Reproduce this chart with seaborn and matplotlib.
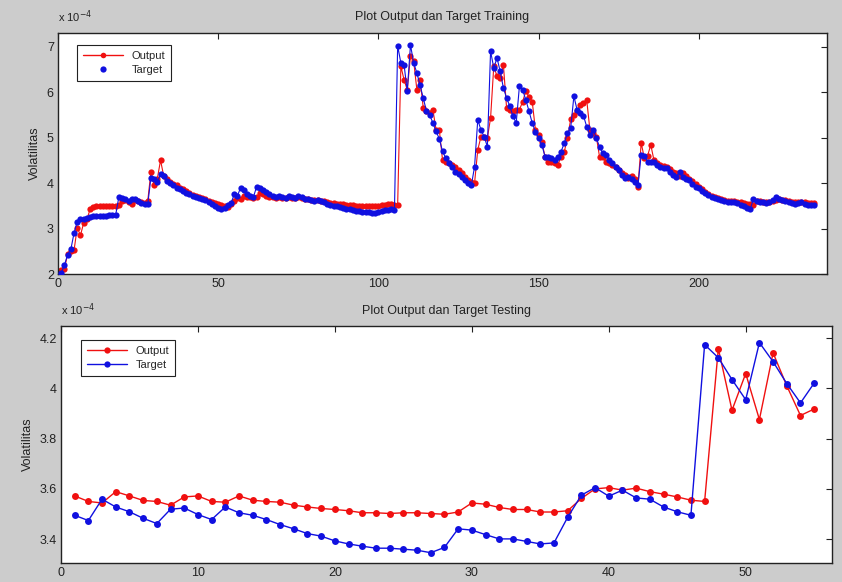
import matplotlib
matplotlib.use("Agg")
import matplotlib.pyplot as plt
from matplotlib.lines import Line2D
from matplotlib.ticker import FuncFormatter
import numpy as np
import seaborn as sns

# volatility values, in units of 1e-4 (shown as "x 10^-4" on the axes)
target_train = [
    2.02, 2.20, 2.42, 2.54, 2.90, 3.15, 3.20, 3.22, 3.24, 3.25,
    3.27, 3.28, 3.28, 3.28, 3.28, 3.29, 3.29, 3.30, 3.70, 3.68,
    3.64, 3.60, 3.66, 3.64, 3.60, 3.57, 3.55, 3.53, 4.12, 4.08,
    4.02, 4.20, 4.15, 4.05, 4.00, 3.95, 3.90, 3.86, 3.82, 3.78,
    3.75, 3.72, 3.70, 3.68, 3.65, 3.62, 3.58, 3.55, 3.50, 3.46,
    3.44, 3.45, 3.52, 3.56, 3.75, 3.72, 3.90, 3.85, 3.75, 3.72,
    3.70, 3.92, 3.90, 3.85, 3.80, 3.75, 3.72, 3.70, 3.72, 3.70,
    3.68, 3.72, 3.70, 3.68, 3.72, 3.70, 3.66, 3.64, 3.62, 3.60,
    3.62, 3.60, 3.58, 3.55, 3.52, 3.50, 3.50, 3.48, 3.45, 3.42,
    3.42, 3.40, 3.39, 3.38, 3.37, 3.36, 3.36, 3.35, 3.35, 3.36,
    3.38, 3.41, 3.41, 3.42, 3.40, 7.02, 6.64, 6.60, 6.02, 7.04,
    6.64, 6.42, 6.15, 5.87, 5.58, 5.50, 5.32, 5.14, 4.97, 4.70,
    4.55, 4.44, 4.36, 4.25, 4.20, 4.14, 4.06, 4.00, 3.95, 4.36,
    5.39, 5.17, 5.02, 4.80, 6.90, 6.53, 6.75, 6.46, 6.09, 5.87,
    5.69, 5.47, 5.32, 6.13, 6.05, 5.83, 5.58, 5.32, 5.13, 4.99,
    4.84, 4.58, 4.58, 4.55, 4.51, 4.58, 4.69, 4.88, 5.10, 5.21,
    5.91, 5.61, 5.54, 5.48, 5.24, 5.06, 5.17, 4.99, 4.80, 4.66,
    4.62, 4.51, 4.44, 4.36, 4.29, 4.18, 4.11, 4.14, 4.10, 4.02,
    3.95, 4.62, 4.60, 4.47, 4.47, 4.47, 4.40, 4.36, 4.33, 4.33,
    4.25, 4.18, 4.14, 4.25, 4.14, 4.10, 4.07, 3.99, 3.92, 3.89,
    3.82, 3.78, 3.74, 3.70, 3.67, 3.65, 3.62, 3.60, 3.59, 3.59,
    3.58, 3.56, 3.52, 3.50, 3.46, 3.42, 3.64, 3.60, 3.59, 3.58,
    3.56, 3.59, 3.62, 3.69, 3.65, 3.63, 3.60, 3.59, 3.56, 3.54,
    3.56, 3.59, 3.55, 3.52, 3.52, 3.52,
]
output_train = [
    2.08, 2.10, 2.45, 2.50, 2.52, 3.02, 2.85, 3.12, 3.20, 3.42,
    3.48, 3.50, 3.50, 3.50, 3.50, 3.50, 3.50, 3.50, 3.52, 3.60,
    3.62, 3.58, 3.55, 3.62, 3.60, 3.58, 3.56, 3.60, 4.25, 3.95,
    4.10, 4.50, 4.15, 4.08, 4.02, 3.98, 3.95, 3.90, 3.86, 3.82,
    3.78, 3.74, 3.72, 3.70, 3.67, 3.64, 3.60, 3.58, 3.56, 3.54,
    3.52, 3.50, 3.48, 3.55, 3.60, 3.68, 3.65, 3.72, 3.70, 3.70,
    3.68, 3.70, 3.78, 3.75, 3.72, 3.70, 3.70, 3.68, 3.70, 3.68,
    3.68, 3.70, 3.68, 3.68, 3.70, 3.68, 3.66, 3.64, 3.63, 3.62,
    3.62, 3.61, 3.60, 3.58, 3.57, 3.56, 3.55, 3.54, 3.53, 3.52,
    3.52, 3.51, 3.50, 3.50, 3.50, 3.49, 3.49, 3.49, 3.50, 3.50,
    3.51, 3.52, 3.53, 3.53, 3.52, 3.52, 6.57, 6.27, 6.05, 6.79,
    6.68, 6.05, 6.27, 5.65, 5.58, 5.55, 5.61, 5.17, 5.17, 4.51,
    4.47, 4.44, 4.40, 4.35, 4.29, 4.22, 4.14, 4.07, 4.02, 4.00,
    4.73, 5.02, 5.02, 4.99, 5.43, 6.57, 6.35, 6.31, 6.60, 5.65,
    5.61, 5.58, 5.61, 5.61, 5.79, 6.02, 5.90, 5.79, 5.17, 5.05,
    4.90, 4.58, 4.47, 4.47, 4.44, 4.40, 4.58, 4.69, 4.99, 5.40,
    5.50, 5.58, 5.72, 5.76, 5.83, 5.17, 5.10, 5.02, 4.58, 4.58,
    4.47, 4.44, 4.40, 4.36, 4.29, 4.22, 4.18, 4.12, 4.15, 4.10,
    3.92, 4.88, 4.55, 4.60, 4.84, 4.50, 4.45, 4.40, 4.38, 4.35,
    4.30, 4.25, 4.22, 4.15, 4.22, 4.15, 4.10, 4.05, 3.98, 3.92,
    3.86, 3.80, 3.76, 3.72, 3.70, 3.67, 3.65, 3.62, 3.61, 3.60,
    3.60, 3.59, 3.58, 3.57, 3.55, 3.53, 3.52, 3.60, 3.60, 3.59,
    3.58, 3.58, 3.60, 3.62, 3.65, 3.63, 3.62, 3.60, 3.59, 3.58,
    3.58, 3.59, 3.58, 3.57, 3.56, 3.56,
]

output_test = [
    3.572, 3.550, 3.544, 3.589, 3.572, 3.554, 3.550, 3.535, 3.568, 3.572,
    3.550, 3.547, 3.572, 3.555, 3.550, 3.547, 3.535, 3.528, 3.522, 3.518,
    3.513, 3.505, 3.505, 3.502, 3.505, 3.505, 3.502, 3.499, 3.508, 3.544,
    3.539, 3.526, 3.518, 3.518, 3.508, 3.508, 3.513, 3.562, 3.600, 3.605,
    3.595, 3.603, 3.589, 3.579, 3.568, 3.555, 3.550, 4.158, 3.913, 4.059,
    3.876, 4.141, 4.010, 3.892, 3.918,
]
target_test = [
    3.495, 3.474, 3.559, 3.528, 3.509, 3.483, 3.462, 3.519, 3.524, 3.498,
    3.478, 3.528, 3.505, 3.495, 3.478, 3.458, 3.441, 3.422, 3.412, 3.393,
    3.381, 3.372, 3.364, 3.364, 3.360, 3.356, 3.346, 3.367, 3.441, 3.436,
    3.418, 3.401, 3.401, 3.391, 3.381, 3.385, 3.487, 3.575, 3.605, 3.571,
    3.595, 3.564, 3.559, 3.528, 3.509, 3.495, 4.174, 4.122, 4.035, 3.955,
    4.182, 4.106, 4.019, 3.942, 4.021,
]

train_xticks = [0, 50, 100, 150, 200]
train_yticks = [2, 3, 4, 5, 6, 7]
test_xticks = [0, 10, 20, 30, 40, 50]
test_yticks = [3.4, 3.6, 3.8, 4.0, 4.2]

RED = "#f01010"
BLUE = "#1010e0"
BG = "#cccccc"

sns.set_theme(style="white")
plt.rcParams["font.family"] = ["Liberation Sans", "DejaVu Sans"]
plt.rcParams.update({
    "axes.edgecolor": "#222222",
    "axes.linewidth": 1.0,
    "xtick.direction": "in",
    "ytick.direction": "in",
    "xtick.top": True,
    "ytick.right": True,
    "xtick.major.size": 4,
    "ytick.major.size": 4,
    "xtick.major.width": 0.8,
    "ytick.major.width": 0.8,
    "xtick.color": "#222222",
    "ytick.color": "#222222",
    "xtick.labelsize": 9,
    "ytick.labelsize": 9,
})

fig = plt.figure(figsize=(8.42, 5.82), dpi=100, facecolor=BG)
ax_train = fig.add_axes([0.0689, 0.5292, 0.9133, 0.4141])
ax_test = fig.add_axes([0.0724, 0.0326, 0.9157, 0.4072])


def draw_pair(ax, out, tgt, msize, lw):
    x_out = np.arange(1, len(out) + 1)
    x_tgt = np.arange(1, len(tgt) + 1)
    sns.lineplot(x=x_out, y=out, ax=ax, color=RED, marker="o", markersize=msize,
                 markeredgewidth=0, linewidth=lw, legend=False, zorder=2)
    sns.lineplot(x=x_tgt, y=tgt, ax=ax, color=BLUE, marker="o", markersize=msize,
                 markeredgewidth=0, linewidth=lw, legend=False, zorder=3)


def style_axis(ax, title, xticks, yticks, xlim, ylim):
    ax.set_facecolor("white")
    ax.set_xlim(*xlim)
    ax.set_ylim(*ylim)
    ax.set_xticks(xticks)
    ax.set_yticks(yticks)
    ax.yaxis.set_major_formatter(FuncFormatter(lambda v, p: f"{v:g}"))
    ax.tick_params(axis="both", which="both", labelright=False, labeltop=False, pad=3)
    ax.set_title(title, fontsize=9, pad=9, color="#222222")
    ax.set_ylabel("Volatilitas", fontsize=9, labelpad=4, color="#222222")
    ax.set_xlabel("")
    ax.text(0.0, 1.035, r"x 10$^{-4}$", transform=ax.transAxes, ha="left",
            va="bottom", fontsize=8, color="#222222")
    for sp in ax.spines.values():
        sp.set_visible(True)


draw_pair(ax_train, output_train, target_train, 4.5, 0.8)
style_axis(ax_train, "Plot Output dan Target Training", train_xticks, train_yticks,
           (0, 240), (2, 7.3))
train_handles = [
    Line2D([], [], color=RED, marker="o", markersize=4, markeredgewidth=0, linewidth=1),
    Line2D([], [], color=BLUE, marker="o", markersize=4.5, markeredgewidth=0, linestyle="none"),
]
leg = ax_train.legend(train_handles, ["Output", "Target"], loc="upper left",
                      bbox_to_anchor=(0.025, 0.95), borderaxespad=0, fontsize=8,
                      handlelength=3.6, fancybox=False, framealpha=1,
                      edgecolor="#222222", borderpad=0.5, labelspacing=0.4)
leg.get_frame().set_linewidth(0.8)

draw_pair(ax_test, output_test, target_test, 5, 1.0)
style_axis(ax_test, "Plot Output dan Target Testing", test_xticks, test_yticks,
           (0, 56.3), (3.305, 4.248))
test_handles = [
    Line2D([], [], color=RED, marker="o", markersize=4.5, markeredgewidth=0, linewidth=1),
    Line2D([], [], color=BLUE, marker="o", markersize=4.5, markeredgewidth=0, linewidth=1),
]
leg = ax_test.legend(test_handles, ["Output", "Target"], loc="upper left",
                     bbox_to_anchor=(0.026, 0.94), borderaxespad=0, fontsize=8,
                     handlelength=3.6, fancybox=False, framealpha=1,
                     edgecolor="#222222", borderpad=0.5, labelspacing=0.4)
leg.get_frame().set_linewidth(0.8)

fig.savefig("out.png", dpi=100, facecolor=fig.get_facecolor())
